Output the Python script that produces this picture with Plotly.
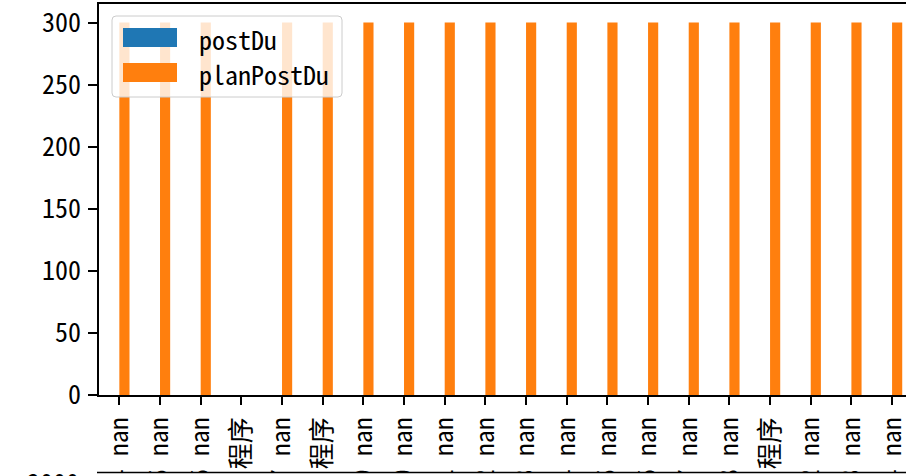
import plotly.graph_objects as go

# ---- data ----
dates = ["2023-03-14", "2023-03-15", "2023-03-16", "2023-03-17", "2023-03-17",
         "2023-03-18", "2023-03-19", "2023-03-20", "2023-03-21", "2023-03-22",
         "2023-03-23", "2023-03-24", "2023-03-25", "2023-03-26", "2023-03-27",
         "2023-03-28", "2023-03-29", "2023-04-02", "2023-04-03", "2023-04-04"]
kinds = ["nan", "nan", "nan", "应用程序", "nan", "应用程序", "nan", "nan", "nan", "nan",
         "nan", "nan", "nan", "nan", "nan", "nan", "应用程序", "nan", "nan", "nan"]
postDu = [0] * 20
planPostDu = [300, 300, 300, 0, 300, 300, 300, 300, 300, 300,
              300, 300, 300, 300, 300, 300, 300, 300, 300, 300]
series_names = ["postDu", "planPostDu"]
yticks = [0, 50, 100, 150, 200, 250, 300]
next_top_tick = "2000"

labels = [f"{d} {k}" for d, k in zip(dates, kinds)]
idx = list(range(len(labels)))

W, H = 906, 476
L, R, T, B = 99, 0, 4, 81
PW, PH = W - L - R, H - T - B
FONT = "Noto Sans Mono CJK SC, Liberation Mono, Noto Sans CJK SC, sans-serif"
FS = 26
BLUE, ORANGE = "#1f77b4", "#ff7f0e"


def px(x):
    return (x - L) / PW


def py(y):
    return (H - B - y) / PH


fig = go.Figure()
fig.add_bar(x=idx, y=postDu, name=series_names[0], marker=dict(color=BLUE, line=dict(width=0)))
fig.add_bar(x=idx, y=planPostDu, name=series_names[1], marker=dict(color=ORANGE, line=dict(width=0)))

unit = 40.67
fig.update_layout(
    width=W, height=H,
    margin=dict(l=L, r=R, t=T, b=B, pad=0),
    paper_bgcolor="white", plot_bgcolor="white",
    barmode="group", bargap=0.5, bargroupgap=0,
    showlegend=False,
    font=dict(family=FONT, size=FS, color="black"),
)
fig.update_xaxes(
    range=[-0.5, -0.5 + PW / unit], tickmode="array", tickvals=idx, ticktext=labels,
    tickangle=-90, ticks="outside", ticklen=8, tickwidth=1.5, tickcolor="black",
    showline=True, linecolor="black", linewidth=1.5, mirror=True,
    showgrid=False, zeroline=False, automargin=False,
    ticklabeloverflow="allow", ticklabelstandoff=2,
    tickfont=dict(family=FONT, size=FS, color="black"),
)
fig.update_yaxes(
    range=[0, 315], tickmode="array", tickvals=yticks,
    ticks="outside", ticklen=9, tickwidth=1.5, tickcolor="black",
    showline=True, linecolor="black", linewidth=1.5, mirror=False,
    showgrid=False, zeroline=False, automargin=False,
    ticklabelstandoff=2,
    tickfont=dict(family=FONT, size=FS, color="black"),
)

shapes = []
# legend frame with rounded corners
x0, x1, y0, y1, r = 112, 342, 16, 97, 4
path = (f"M {px(x0 + r)},{py(y0)} L {px(x1 - r)},{py(y0)} Q {px(x1)},{py(y0)} {px(x1)},{py(y0 + r)} "
        f"L {px(x1)},{py(y1 - r)} Q {px(x1)},{py(y1)} {px(x1 - r)},{py(y1)} "
        f"L {px(x0 + r)},{py(y1)} Q {px(x0)},{py(y1)} {px(x0)},{py(y1 - r)} "
        f"L {px(x0)},{py(y0 + r)} Q {px(x0)},{py(y0)} {px(x0 + r)},{py(y0)} Z")
shapes.append(dict(type="path", xref="paper", yref="paper", path=path,
                   fillcolor="rgba(255,255,255,0.8)", line=dict(color="#cccccc", width=1), layer="above"))
shapes.append(dict(type="rect", xref="paper", yref="paper", x0=px(123), x1=px(177), y0=py(28), y1=py(47),
                   fillcolor=BLUE, line=dict(width=0), layer="above"))
shapes.append(dict(type="rect", xref="paper", yref="paper", x0=px(123), x1=px(177), y0=py(63), y1=py(82),
                   fillcolor=ORANGE, line=dict(width=0), layer="above"))
# next subplot below (covers the rest of the tick labels)
shapes.append(dict(type="rect", xref="paper", yref="paper", x0=px(97), x1=px(W + 5), y0=py(472), y1=py(H + 20),
                   fillcolor="white", line=dict(width=0), layer="above"))
shapes.append(dict(type="line", xref="paper", yref="paper", x0=px(97), x1=px(W + 5), y0=py(472.5), y1=py(472.5),
                   line=dict(color="black", width=1.5), layer="above"))
fig.update_layout(shapes=shapes)

anns = [
    dict(text=series_names[0], x=px(197), y=py(38), xref="paper", yref="paper", xanchor="left", yanchor="middle",
         showarrow=False, font=dict(family=FONT, size=FS, color="black")),
    dict(text=series_names[1], x=px(197), y=py(73), xref="paper", yref="paper", xanchor="left", yanchor="middle",
         showarrow=False, font=dict(family=FONT, size=FS, color="black")),
    dict(text=next_top_tick, x=px(81), y=py(481), xref="paper", yref="paper", xanchor="right", yanchor="middle",
         showarrow=False, font=dict(family=FONT, size=FS, color="black")),
]
fig.update_layout(annotations=anns)

fig.write_html("out.html", config={"displayModeBar": False},
               post_script="document.body.style.margin='0';document.body.style.overflow='hidden';")
